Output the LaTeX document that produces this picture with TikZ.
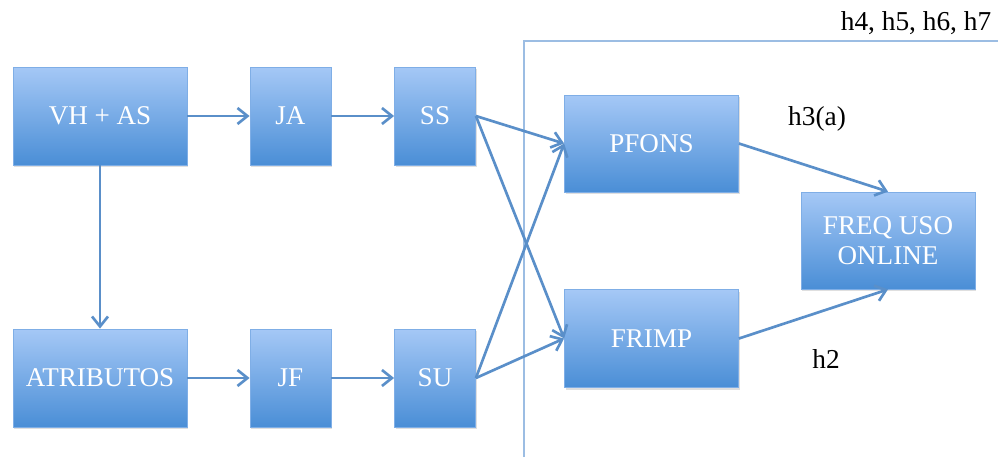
\documentclass[tikz,border=0pt]{standalone}
\usepackage{fontspec}
\setmainfont{Liberation Serif}
\usetikzlibrary{arrows.meta,shadows}
\definecolor{boxtop}{HTML}{A5C8F6}
\definecolor{boxbot}{HTML}{4A8ED6}
\definecolor{boxedge}{HTML}{7FAEE6}
\definecolor{linkblue}{HTML}{5A8FC9}
\definecolor{framecol}{HTML}{9CBDE3}
\tikzset{
  block/.style={draw=boxedge, line width=0.6pt, top color=boxtop, bottom color=boxbot,
    text=white, font=\fontsize{20.3}{22}\selectfont, align=center, inner sep=0pt,
    drop shadow={shadow xshift=1pt, shadow yshift=-1.5pt, opacity=0.25}},
  link/.style={draw=linkblue, line width=2pt,
    -{Straight Barb[length=7.5pt, width=12pt, line width=2pt]}},
  tag/.style={font=\fontsize{20.5}{22}\selectfont, text=black, inner sep=0pt},
  frame/.style={draw=framecol, line width=1.1pt}
}
\begin{document}
\begin{tikzpicture}[x=0.75pt, y=-0.75pt]
\useasboundingbox (0,0) rectangle (998,457);
% bracket enclosing the outcome side
\draw[frame] (524,457) -- (524,41) -- (998,41);
% boxes
\node[block, minimum width=174*0.75pt, minimum height=98*0.75pt] (vhas) at (100,116) {VH + AS};
\node[block, minimum width=81*0.75pt, minimum height=98*0.75pt] (ja) at (290.5,116) {JA};
\node[block, minimum width=81*0.75pt, minimum height=98*0.75pt] (ss) at (435,116) {SS};
\node[block, minimum width=174*0.75pt, minimum height=98*0.75pt] (atr) at (100,378) {ATRIBUTOS};
\node[block, minimum width=81*0.75pt, minimum height=98*0.75pt] (jf) at (290.5,378) {JF};
\node[block, minimum width=81*0.75pt, minimum height=98*0.75pt] (su) at (435,378) {SU};
\node[block, minimum width=174*0.75pt, minimum height=97*0.75pt] (pfons) at (651.5,143.5) {PFONS};
\node[block, minimum width=174*0.75pt, minimum height=98*0.75pt] (frimp) at (651.5,338.5) {FRIMP};
\node[block, minimum width=174*0.75pt, minimum height=97*0.75pt] (freq) at (888,240.5) {FREQ USO\\ONLINE};
% labels
\node[tag] (lh47) at (916,23) {h4, h5, h6, h7};
\node[tag] (lh3) at (817,119) {h3(a)};
\node[tag] (lh2) at (826,359) {h2};
% connectors
\draw[link] (vhas.east) -- (ja.west);
\draw[link] (ja.east) -- (ss.west);
\draw[link] (vhas.south) -- (atr.north);
\draw[link] (atr.east) -- (jf.west);
\draw[link] (jf.east) -- (su.west);
\draw[link] (ss.east) -- (pfons.west);
\draw[link] (ss.east) -- (frimp.west);
\draw[link] (su.east) -- (pfons.west);
\draw[link] (su.east) -- (frimp.west);
\draw[link] (pfons.east) -- (freq.north);
\draw[link] (frimp.east) -- (freq.south);
\end{tikzpicture}
\end{document}
